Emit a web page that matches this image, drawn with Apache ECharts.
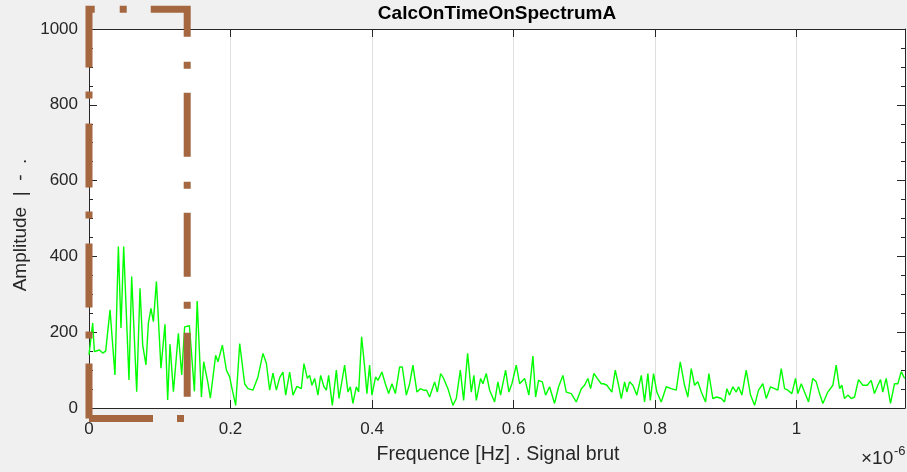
<!DOCTYPE html>
<html>
<head>
<meta charset="utf-8">
<script src="https://cdn.jsdelivr.net/npm/echarts@6/dist/echarts.min.js"></script>
<style>
  html, body { margin: 0; padding: 0; background: #f0f0f0; }
  #main { width: 907px; height: 472px; }
</style>
</head>
<body>
<div id="main"></div>
<script>
// spectrum, frequency in units of 1e-6 Hz (axis shows x10^-6)
const freq = [
  0, 0.0052, 0.0076, 0.0147, 0.0194, 0.0236, 0.0297, 0.0367, 0.0415, 0.0452,
  0.0490, 0.0565, 0.0603, 0.0674, 0.0721, 0.0759, 0.0805, 0.0839, 0.0876, 0.0910,
  0.0953, 0.1017, 0.1074, 0.1112, 0.1145, 0.1193, 0.1221, 0.1263, 0.1310, 0.1352,
  0.1419, 0.1490, 0.1529, 0.1589, 0.1621, 0.1682, 0.1715, 0.1790, 0.1823, 0.1885,
  0.1942, 0.1988, 0.2021, 0.2073, 0.2130, 0.2200, 0.2247, 0.2317, 0.2388, 0.2459,
  0.2507, 0.2553, 0.2600, 0.2648, 0.2695, 0.2741, 0.2780, 0.2836, 0.2883, 0.2939,
  0.3001, 0.3038, 0.3086, 0.3119, 0.3151, 0.3189, 0.3236, 0.3274, 0.3321, 0.3355,
  0.3387, 0.3439, 0.3496, 0.3533, 0.3613, 0.3660, 0.3694, 0.3730, 0.3778, 0.3811,
  0.3853, 0.3896, 0.3928, 0.3966, 0.3999, 0.4051, 0.4084, 0.4140, 0.4188, 0.4235,
  0.4282, 0.4330, 0.4390, 0.4428, 0.4485, 0.4532, 0.4578, 0.4635, 0.4683, 0.4730,
  0.4772, 0.4814, 0.4885, 0.4923, 0.4970, 0.5012, 0.5073, 0.5143, 0.5191, 0.5248,
  0.5295, 0.5351, 0.5403, 0.5440, 0.5474, 0.5535, 0.5567, 0.5615, 0.5662, 0.5733,
  0.5779, 0.5817, 0.5888, 0.5935, 0.5977, 0.6039, 0.6086, 0.6157, 0.6217, 0.6274,
  0.6312, 0.6354, 0.6407, 0.6453, 0.6510, 0.6580, 0.6637, 0.6698, 0.6746, 0.6816,
  0.6887, 0.6958, 0.7004, 0.7051, 0.7089, 0.7136, 0.7184, 0.7240, 0.7273, 0.7320,
  0.7390, 0.7438, 0.7485, 0.7523, 0.7570, 0.7602, 0.7640, 0.7687, 0.7743, 0.7806,
  0.7852, 0.7899, 0.7933, 0.7979, 0.8026, 0.8088, 0.8159, 0.8230, 0.8300, 0.8357,
  0.8417, 0.8464, 0.8512, 0.8559, 0.8605, 0.8654, 0.8714, 0.8761, 0.8817, 0.8874,
  0.8936, 0.8983, 0.9015, 0.9053, 0.9100, 0.9148, 0.9181, 0.9227, 0.9289, 0.9350,
  0.9407, 0.9463, 0.9524, 0.9572, 0.9633, 0.9689, 0.9736, 0.9784, 0.9831, 0.9877,
  0.9934, 0.9986, 1.0019, 1.0067, 1.0113, 1.0170, 1.0230, 1.0278, 1.0325, 1.0372,
  1.0442, 1.0513, 1.0561, 1.0608, 1.0640, 1.0678, 1.0725, 1.0773, 1.0820, 1.0876,
  1.0937, 1.0999, 1.1055, 1.1102, 1.1149, 1.1187, 1.1219, 1.1267, 1.1328, 1.1385,
  1.1432, 1.1480, 1.1527
];
const amp = [
  140, 224, 149, 153, 145, 150, 259, 87, 426, 211,
  426, 74, 347, 43, 316, 166, 114, 224, 263, 228,
  334, 105, 221, 21, 168, 43, 48, 197, 87, 214,
  217, 44, 282, 29, 122, 65, 26, 139, 122, 166,
  100, 82, 52, 7, 170, 64, 51, 47, 82, 144,
  118, 47, 92, 47, 80, 95, 34, 95, 34, 57,
  51, 117, 78, 86, 60, 78, 34, 86, 56, 47,
  86, 7, 100, 25, 113, 42, 56, 12, 56, 42,
  188, 108, 38, 113, 34, 82, 73, 95, 64, 38,
  64, 38, 108, 108, 34, 64, 113, 42, 51, 47,
  47, 29, 69, 42, 91, 78, 51, 7, 25, 100,
  20, 144, 42, 86, 20, 78, 64, 91, 47, 16,
  69, 34, 100, 42, 64, 113, 64, 78, 34, 137,
  29, 73, 69, 34, 56, 12, 56, 86, 42, 38,
  16, 51, 60, 78, 51, 91, 78, 64, 64, 60,
  42, 100, 60, 25, 69, 42, 69, 60, 34, 86,
  16, 91, 20, 91, 42, 16, 56, 51, 47, 122,
  60, 29, 104, 60, 69, 42, 16, 91, 25, 29,
  25, 16, 51, 34, 56, 42, 56, 34, 100, 34,
  7, 47, 64, 25, 56, 51, 47, 104, 51, 47,
  38, 78, 38, 64, 42, 16, 78, 69, 38, 12,
  42, 60, 113, 51, 60, 25, 34, 25, 29, 75,
  60, 60, 73, 38, 60, 75, 42, 78, 12, 64,
  64, 96, 78
];

// selection box drawn over the low-frequency part
const boxFreq = [0, 0.1388, 0.1388, 0, 0];
const boxAmp = [-28, -28, 1052, 1052, -28];

const xMax = 1.1533;
const yTicks = [0, 200, 400, 600, 800, 1000];

const axisColor = '#262626';
const font = '"Liberation Sans", Arial, sans-serif';

const myChart = echarts.init(document.getElementById('main'), null, { renderer: 'canvas' });

const option = {
  backgroundColor: '#f0f0f0',
  animation: false,
  grid: {
    show: true,
    left: 89,
    top: 29,
    right: 2,
    height: 379,
    backgroundColor: '#ffffff',
    borderWidth: 0
  },
  xAxis: [
    {
      type: 'value',
      min: 0,
      max: xMax,
      interval: 0.2,
      position: 'bottom',
      axisLine: { show: true, onZero: false, lineStyle: { color: axisColor, width: 1 } },
      axisTick: { show: true, inside: true, length: 8, lineStyle: { color: axisColor } },
      axisLabel: { color: axisColor, fontSize: 17, fontFamily: font, margin: 13, showMaxLabel: false },
      splitLine: { show: true, lineStyle: { color: '#dfdfdf', width: 1 } }
    },
    {
      type: 'value',
      min: 0,
      max: xMax,
      interval: 0.2,
      position: 'top',
      axisLine: { show: true, onZero: false, lineStyle: { color: axisColor, width: 1 } },
      axisTick: { show: true, inside: true, length: 8, lineStyle: { color: axisColor } },
      axisLabel: { show: false },
      splitLine: { show: false }
    }
  ],
  yAxis: [
    {
      type: 'value',
      min: yTicks[0],
      max: yTicks[yTicks.length - 1],
      interval: 200,
      position: 'left',
      axisLine: { show: true, onZero: false, lineStyle: { color: axisColor, width: 1 } },
      axisTick: { show: true, inside: true, length: 8, lineStyle: { color: axisColor } },
      minorTick: { show: true, splitNumber: 4, length: 4, lineStyle: { color: axisColor } },
      axisLabel: { color: axisColor, fontSize: 17, fontFamily: font, margin: 11,
                   formatter: v => String(v) },
      splitLine: { show: false }
    },
    {
      type: 'value',
      min: yTicks[0],
      max: yTicks[yTicks.length - 1],
      interval: 200,
      position: 'right',
      axisLine: { show: true, onZero: false, lineStyle: { color: axisColor, width: 1 } },
      axisTick: { show: true, inside: true, length: 8, lineStyle: { color: axisColor } },
      minorTick: { show: true, splitNumber: 4, length: 4, lineStyle: { color: axisColor } },
      axisLabel: { show: false },
      splitLine: { show: false }
    }
  ],
  series: [
    {
      type: 'line',
      data: freq.map((f, i) => [f, amp[i]]),
      showSymbol: false,
      symbol: 'none',
      lineStyle: { color: '#00ff00', width: 1.4 },
      z: 2
    },
    {
      type: 'line',
      data: boxFreq.map((f, i) => [f, boxAmp[i]]),
      showSymbol: false,
      symbol: 'none',
      clip: false,
      lineStyle: {
        color: '#a5673f',
        width: 7,
        type: [64, 24, 7, 25],
        cap: 'butt',
        join: 'miter'
      },
      z: 5
    }
  ],
  graphic: [
    {
      type: 'text', x: 497, y: 14, z: 10,
      style: { text: 'CalcOnTimeOnSpectrumA', fontSize: 19, fontWeight: 'bold', fontFamily: font,
               fill: '#000', align: 'center', verticalAlign: 'middle' }
    },
    {
      type: 'text', x: 498, y: 455, z: 10,
      style: { text: 'Frequence [Hz] . Signal brut', fontSize: 19.5, fontFamily: font,
               fill: axisColor, align: 'center', verticalAlign: 'middle' }
    },
    {
      type: 'text', x: 21, y: 225, rotation: Math.PI / 2, z: 10,
      style: { text: 'Amplitude  |  -  .', fontSize: 19, fontFamily: font,
               fill: axisColor, align: 'center', verticalAlign: 'middle' }
    },
    {
      type: 'text', x: 861, y: 459, z: 10,
      style: { text: '\u00d710', fontSize: 19, fontFamily: font,
               fill: axisColor, align: 'left', verticalAlign: 'middle' }
    },
    {
      type: 'text', x: 894, y: 451, z: 10,
      style: { text: '-6', fontSize: 13, fontFamily: font,
               fill: axisColor, align: 'left', verticalAlign: 'middle' }
    }
  ]
};
myChart.setOption(option);
</script>
</body>
</html>
